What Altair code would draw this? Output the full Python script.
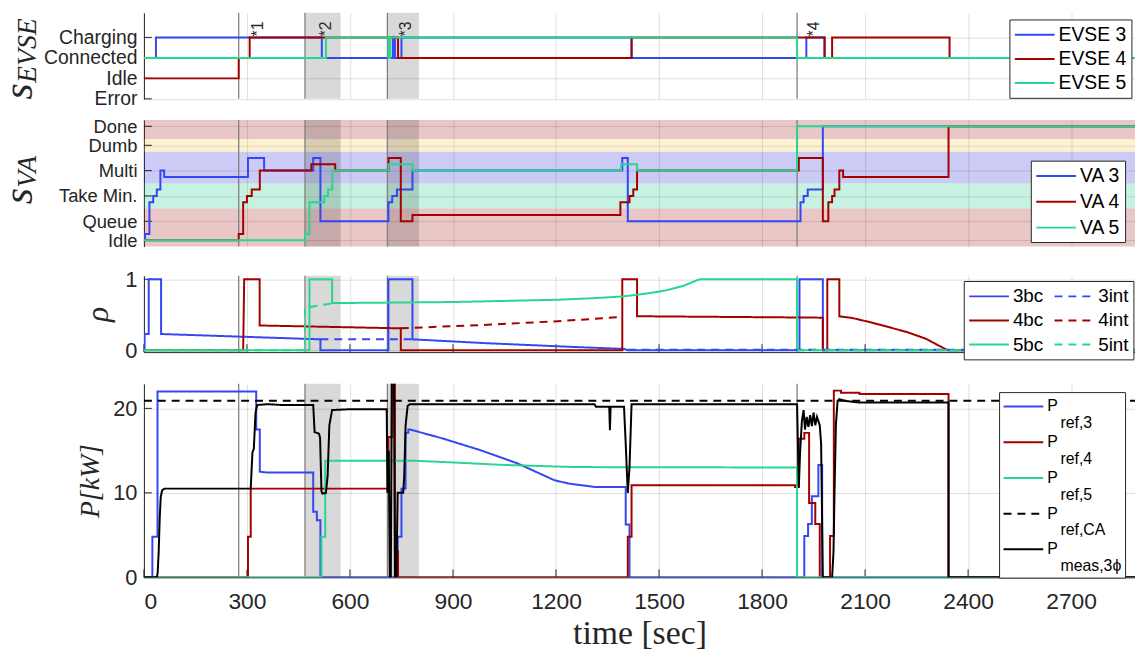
import altair as alt
import pandas as pd

# ---------------- data ----------------
T_END = 2886
X_TICKS = [0, 300, 600, 900, 1200, 1500, 1800, 2100, 2400, 2700]
EVENT_T = [276, 469, 709, 1902]
SHADE_START = [469, 709]
SHADE_END = [573, 801]
NOTE_T = [308, 507, 739, 1929]
NOTE_LABEL = ["*1", "*2", "*3", "*4"]

# EVSE states: 0 Error, 1 Idle, 2 Connected, 3 Charging
EVSE_TICKS = [0, 1, 2, 3]
EVSE_NAMES = ["Error", "Idle", "Connected", "Charging"]
EVSE3_T = [0, 35, 518, 725, 731, 750, 1420, 1929, 1982]
EVSE3_V = [2, 3, 2, 3, 2, 3, 2, 3, 2]
EVSE4_T = [0, 276, 308, 740, 1420, 1982, 2004, 2346]
EVSE4_V = [1, 2, 3, 2, 3, 2, 3, 2]
EVSE5_T = [0, 530, 712, 717, 1902]
EVSE5_V = [2, 3, 2, 3, 2]

# VA states
VA_TICKS = [0, 3, 7, 11, 15, 18]
VA_NAMES = ["Idle", "Queue", "Take Min.", "Multi", "Dumb", "Done"]
VA_BAND_LO = [-1, 5, 9, 14, 16]
VA_BAND_HI = [5, 9, 14, 16, 19]
VA_BAND_KIND = ["idle", "take", "multi", "dumb", "done"]
VA3_T = [0, 3, 16, 27, 37.5, 48, 59, 303, 350, 493, 514, 712, 723, 737, 782, 1393, 1409, 1912, 1921, 1933, 1977]
VA3_V = [0, 1, 6, 7, 8, 11, 10, 13, 11, 13, 3, 6, 7, 8, 11, 13, 3, 6, 7, 8, 18]
VA4_T = [0, 276, 289, 300, 314, 337.5, 487.5, 557, 712.5, 748, 782, 1387.5, 1414, 1425, 1436, 1907, 1977, 1993, 2004, 2011, 2025, 2036, 2343]
VA4_V = [0, 1, 6, 7, 8, 11, 12, 11, 13, 3, 4, 6, 7, 8, 11, 13, 3, 6, 7, 8, 11, 10, 18]
VA5_T = [0, 469, 482, 525, 536, 548.5, 712.5, 782, 1390, 1436, 1902]
VA5_V = [0, 1, 6, 7, 8, 11, 12, 11, 12, 11, 18]

# rho
RHO_TICKS = [0, 1]
RHO3BC_T = [0, 2, 2, 14, 14, 50, 50, 514, 514, 712, 712, 782, 782, 1000, 1259, 1400, 1409, 1909, 1909, 1977, 1977, T_END]
RHO3BC_V = [0, 0, 0.23, 0.23, 1, 1, 0.23, 0.155, 0, 0, 1, 1, 0.155, 0.1, 0.046, 0.02, 0, 0, 1, 1, 0, 0]
RHO3INT_SEGS = [([514, 782], [0.155, 0.155]), ([1409, T_END], [0.008, 0.008])]
RHO4BC_T = [0, 289, 292, 337, 337, 748, 748, 1393, 1393, 1436, 1436, 1977, 1977, 1990, 1990, 2025, 2025, 2062, 2116, 2170, 2223, 2277, 2341, T_END]
RHO4BC_V = [0, 0, 1, 1, 0.35, 0.31, 0, 0, 1, 1, 0.48, 0.46, 0, 0, 1, 1, 0.479, 0.456, 0.395, 0.326, 0.256, 0.163, 0, 0]
RHO4INT_SEGS = [([748, 1000, 1205, 1393], [0.31, 0.36, 0.41, 0.47])]
RHO5BC_T = [0, 482, 482, 548, 548, 900, 1205, 1312, 1393, 1436, 1484, 1527, 1570, 1612, 1620, 1902, 1902, T_END]
RHO5BC_V = [0, 0, 1, 1, 0.665, 0.68, 0.712, 0.735, 0.758, 0.782, 0.814, 0.851, 0.907, 0.99, 1, 1, 0, 0]
RHO5INT_SEGS = [([0, 469, 469, 548], [0, 0, 0.6, 0.66]), ([1902, T_END], [0, 0])]

# power [kW]
P_TICKS = [0, 10, 20]
PREF3_T = [0, 24.6, 24.6, 39.6, 39.6, 327, 327, 337.5, 337.5, 360, 493, 493, 503.6, 503.6, 514, 514, 739, 739, 750, 750, 762, 762, 770, 770,
           775, 873, 980, 1087, 1195, 1237, 1312, 1403, 1403, 1414, 1414, 1923, 1923, 1934, 1934, 1945, 1945, 1964, 1964, 1975, 1975, T_END]
PREF3_V = [0, 0, 4.8, 4.8, 22.0, 22.0, 17.5, 17.5, 12.5, 12.4, 12.4, 7.75, 7.75, 6.76, 6.76, 0, 0, 4.8, 4.8, 10.5, 10.5, 17.1, 17.1, 17.5,
           17.5, 16.4, 15.05, 13.5, 11.5, 11.1, 10.7, 10.7, 6.26, 6.26, 0, 0, 4.9, 4.9, 6.3, 6.3, 9.6, 9.6, 13.3, 13.3, 0, 0]
PREF4_T = [0, 303, 303, 311, 311, 712, 712, 722, 722, 731, 731, 740, 740, 1409, 1409, 1420, 1420, 1896, 1896, 1907, 1907, 1923, 1923, 1937,
           1937, 1955, 1955, 1968, 1968, 1998, 1998, 2009, 2009, 2030, 2030, 2084, 2084, 2343, 2343, T_END]
PREF4_V = [0, 0, 4.8, 4.8, 10.5, 10.5, 16.6, 16.6, 24, 24, 3.1, 3.1, 0, 0, 4.8, 4.8, 10.9, 10.9, 10.7, 10.7, 16.4, 16.4, 17.1, 17.1,
           8.8, 8.8, 6.3, 6.3, 0, 0, 4.9, 4.9, 22.1, 22.1, 21.85, 21.85, 21.7, 21.7, 0, 0]
PREF5_T = [0, 517, 517, 528, 528, 787, 900, 1050, 1259, 1902, 1902, T_END]
PREF5_V = [0, 0, 4.8, 4.8, 13.8, 13.8, 13.6, 13.3, 13.05, 13.0, 0, 0]
PREF_CA_T = [0, T_END]
PREF_CA_V = [20.9, 20.9]
PMEAS_T = [0, 37.5, 40, 43, 46, 49, 53, 60, 311, 316, 320, 325, 330, 360, 400, 493, 497, 510, 513, 517, 520, 530, 535, 540, 548, 600, 707,
           709, 713, 716, 719, 722, 728, 731, 735, 739, 755, 758, 762, 768, 775, 1312, 1316, 1355, 1357, 1359, 1398, 1403, 1409, 1414, 1420,
           1902, 1907, 1911, 1916, 1921, 1925, 1930, 1935, 1940, 1945, 1950, 1955, 1960, 1968, 1972, 1977, 2004, 2008, 2011, 2015, 2020,
           2025, 2040, 2080, 2343, 2343, T_END]
PMEAS_V = [0, 0, 0.5, 3, 7, 9.5, 10.3, 10.5, 10.5, 14.8, 15.2, 19.5, 20.4, 20.5, 20.4, 20.4, 17.2, 17, 16.5, 10.2, 9.9, 10, 12, 18, 19.8,
           19.9, 19.9, 10, 15, 0, 0, 24, 24, 0, 0, 10, 10, 12, 18, 20.3, 20.5, 20.5, 20.2, 20.2, 17.4, 20.2, 20.2, 15.8, 10, 13, 20.5,
           20.5, 10.6, 15, 18.5, 19.8, 17.5, 19, 17.8, 19.2, 17.9, 19.5, 18, 19, 18, 15.8, 0, 0, 3, 10, 18, 20.9,
           21.1, 20.9, 20.7, 20.7, 0, 0]

# ---------------- style ----------------
BLUE = "#3347f2"
RED = "#a30000"
GREEN = "#28d68e"
BLACK = "#000000"
AXC = "#262626"
FONT = "Liberation Sans"
SERIF = "Liberation Serif"
DASH = [8, 6]
LINE_SYMBOL = "M-1,0H3"
TICK_LEN = 8

W = 999
H1, H2, H3, H4 = 86.7, 127.6, 77, 195
GAP12, GAP23, GAP34 = 20.7, 28.7, 31.7


def step_rows(name, ts, vs):
    rows = [{"t": t, "v": v, "series": name, "seg": 0} for t, v in zip(ts, vs)]
    rows.append({"t": T_END, "v": vs[-1], "series": name, "seg": 0})
    return rows


def pt_rows(name, ts, vs, seg=0):
    return [{"t": t, "v": v, "series": name, "seg": seg} for t, v in zip(ts, vs)]


def label_expr(vals, names):
    s = "''"
    for v, n in zip(vals, names):
        s = f"datum.value == {v} ? '{n}' : ({s})"
    return s


def x_axis(labels=False, domain=False, title=None):
    kw = dict(values=X_TICKS, labels=labels, ticks=False, domain=domain, domainColor=AXC, domainWidth=1,
              grid=True, gridColor=AXC, gridOpacity=0.15, gridWidth=1, format="d", labelOverlap=False,
              labelFont=FONT, labelFontSize=23, labelColor=AXC, labelPadding=13)
    if title:
        kw.update(title=title, titleFont=SERIF, titleFontSize=34, titleFontWeight="normal",
                  titleColor=AXC, titlePadding=4)
    else:
        kw["title"] = None
    return alt.Axis(**kw)


def y_axis(values, names=None, size=19.5, title=None, tsize=28, tpad=6):
    kw = dict(values=values, ticks=False, domain=True, domainColor=AXC, domainWidth=1,
              grid=True, gridColor=AXC, gridOpacity=0.15, gridWidth=1, labelOverlap=False, format="d",
              labelFont=FONT, labelFontSize=size, labelColor=AXC, labelPadding=7)
    if names:
        kw["labelExpr"] = label_expr(values, names)
    if title:
        kw.update(title=title, titleFont=SERIF, titleFontSize=tsize, titleFontStyle="italic",
                  titleFontWeight="normal", titleColor=AXC, titlePadding=tpad)
    else:
        kw["title"] = None
    return alt.Axis(**kw)


def legend(x, y, rowpad=3.3, cols=1, size=19.5, pad=4.5, **extra):
    return alt.Legend(title=None, orient="none", legendX=x, legendY=y, direction="vertical",
                      columns=cols, symbolType=LINE_SYMBOL, symbolSize=400, symbolStrokeWidth=2,
                      labelFont=FONT, labelFontSize=size, labelColor="#000000", fillColor="white",
                      strokeColor=AXC, padding=pad, rowPadding=rowpad, columnPadding=7, labelOffset=23, **extra)


shade_df = pd.DataFrame({"t": SHADE_START, "t2": SHADE_END})
event_df = pd.DataFrame({"t": EVENT_T})


def common_layers(X):
    shade = alt.Chart(shade_df).mark_rect(color="#000000", opacity=0.15).encode(
        x=X, x2="t2:Q")
    events = alt.Chart(event_df).mark_rule(color="#808080", strokeWidth=1.3).encode(x=X)
    return shade, events


def y_ticks(Y, vals):
    # MATLAB-style inward ticks on the left axis
    return alt.Chart(pd.DataFrame({"v": vals})).mark_rule(color=AXC, strokeWidth=1).encode(
        y=Y, x=alt.value(0), x2=alt.value(TICK_LEN))


def x_ticks(X, h):
    # MATLAB-style inward ticks on the bottom axis
    return alt.Chart(pd.DataFrame({"t": X_TICKS})).mark_rule(color=AXC, strokeWidth=1).encode(
        x=X, y=alt.value(h), y2=alt.value(h - TICK_LEN))


def title_text(txt, x, y, size):
    return alt.Chart(pd.DataFrame({"txt": [txt]})).mark_text(
        font=SERIF, fontSize=size, fontStyle="italic", color=AXC, angle=270,
        align="left", baseline="alphabetic").encode(text="txt:N", x=alt.value(x), y=alt.value(y))


def spacer(h):
    return alt.Chart(pd.DataFrame({"a": [0]})).mark_point(opacity=0).encode(
        x=alt.value(0), y=alt.value(0)).properties(width=W, height=h)


XSCALE = alt.Scale(domain=[0, T_END], nice=False, zero=False)

# ---------- panel 1: EVSE ----------
evse_df = pd.DataFrame(step_rows("EVSE 3", EVSE3_T, EVSE3_V) + step_rows("EVSE 4", EVSE4_T, EVSE4_V)
                       + step_rows("EVSE 5", EVSE5_T, EVSE5_V))
X1 = alt.X("t:Q", scale=XSCALE, axis=x_axis())
Y1 = alt.Y("v:Q", scale=alt.Scale(domain=[0, 4.2], nice=False, zero=False),
           axis=y_axis(EVSE_TICKS, EVSE_NAMES))
sh1, ev1 = common_layers(X1)
lines1 = alt.Chart(evse_df).mark_line(interpolate="step-after", strokeWidth=2, clip=True).encode(
    x=X1, y=Y1,
    color=alt.Color("series:N", scale=alt.Scale(domain=["EVSE 3", "EVSE 4", "EVSE 5"], range=[BLUE, RED, GREEN]),
                    legend=legend(872.4, 6.7)),
    detail="seg:N")
note_df = pd.DataFrame({"t": NOTE_T, "v": [3.05] * 4, "lab": NOTE_LABEL})
notes = alt.Chart(note_df).mark_text(font=FONT, fontSize=16, color=AXC, angle=270, align="left",
                                     baseline="top").encode(x=X1, y=Y1, text="lab:N")
p1 = alt.layer(sh1, ev1, y_ticks(Y1, EVSE_TICKS), lines1, notes,
               title_text("s", -112.7, 87.4, 42), title_text("EVSE", -109, 70.7, 28)
               ).properties(width=W, height=H1)

# ---------- panel 2: VA ----------
va_df = pd.DataFrame(step_rows("VA 3", VA3_T, VA3_V) + step_rows("VA 4", VA4_T, VA4_V)
                     + step_rows("VA 5", VA5_T, VA5_V))
band_df = pd.DataFrame({"v": VA_BAND_LO, "v2": VA_BAND_HI, "kind": VA_BAND_KIND})
X2 = alt.X("t:Q", scale=XSCALE, axis=x_axis())
Y2 = alt.Y("v:Q", scale=alt.Scale(domain=[-1, 19], nice=False, zero=False),
           axis=y_axis(VA_TICKS, VA_NAMES, size=18.5))
bands = alt.Chart(band_df).mark_rect(opacity=0.22).encode(
    y=Y2, y2="v2:Q",
    fill=alt.Fill("kind:N", scale=alt.Scale(domain=["idle", "take", "multi", "dumb", "done"],
                                           range=["#990000", "#00c070", "#1010d0", "#f0c030", "#990000"]),
                  legend=None))
sh2, ev2 = common_layers(X2)
lines2 = alt.Chart(va_df).mark_line(interpolate="step-after", strokeWidth=2, clip=True).encode(
    x=X2, y=Y2,
    color=alt.Color("series:N", scale=alt.Scale(domain=["VA 3", "VA 4", "VA 5"], range=[BLUE, RED, GREEN]),
                    legend=legend(894, 41, rowpad=5)),
    detail="seg:N")
p2 = alt.layer(bands, sh2, ev2, y_ticks(Y2, VA_TICKS), lines2,
               title_text("s", -112.7, 85, 42), title_text("VA", -109, 68.3, 28)
               ).properties(width=W, height=H2)

# ---------- panel 3: rho ----------
rho_rows = (pt_rows("3bc", RHO3BC_T, RHO3BC_V) + pt_rows("4bc", RHO4BC_T, RHO4BC_V)
            + pt_rows("5bc", RHO5BC_T, RHO5BC_V))
for name, segs in (("3int", RHO3INT_SEGS), ("4int", RHO4INT_SEGS), ("5int", RHO5INT_SEGS)):
    for i, (ts, vs) in enumerate(segs):
        rho_rows += pt_rows(name, ts, vs, seg=i + 1)
rho_df = pd.DataFrame(rho_rows)
X3 = alt.X("t:Q", scale=XSCALE, axis=x_axis(domain=True))
Y3 = alt.Y("v:Q", scale=alt.Scale(domain=[-0.025, 1.05], nice=False, zero=False),
           axis=y_axis(RHO_TICKS, size=22, title="ρ", tsize=32, tpad=10))
sh3, ev3 = common_layers(X3)
rho_dom = ["3bc", "4bc", "5bc", "3int", "4int", "5int"]
leg3 = legend(826.4, 5.3, cols=2, size=19)
lines3 = alt.Chart(rho_df).mark_line(strokeWidth=2, clip=True).encode(
    x=X3, y=Y3,
    color=alt.Color("series:N", scale=alt.Scale(domain=rho_dom, range=[BLUE, RED, GREEN, BLUE, RED, GREEN]),
                    legend=leg3),
    strokeDash=alt.StrokeDash("series:N", scale=alt.Scale(domain=rho_dom,
                                                          range=[[1, 0], [1, 0], [1, 0], DASH, DASH, DASH]),
                              legend=leg3),
    detail="seg:N")
p3 = alt.layer(sh3, ev3, y_ticks(Y3, RHO_TICKS), x_ticks(X3, H3), lines3).properties(width=W, height=H3)

# ---------- panel 4: power ----------
SUB = "\u200b\u00a0\u00a0\u00a0"
p_dom = ["P|" + SUB + "ref,3", "P|" + SUB + "ref,4", "P|" + SUB + "ref,5", "P|" + SUB + "ref,CA",
         "P|" + SUB + "meas,3ϕ"]
p_df = pd.DataFrame(pt_rows(p_dom[0], PREF3_T, PREF3_V) + pt_rows(p_dom[1], PREF4_T, PREF4_V)
                    + pt_rows(p_dom[2], PREF5_T, PREF5_V) + pt_rows(p_dom[3], PREF_CA_T, PREF_CA_V)
                    + pt_rows(p_dom[4], PMEAS_T, PMEAS_V))
X4 = alt.X("t:Q", scale=XSCALE, axis=x_axis(labels=True, domain=True, title="time [sec]"))
Y4 = alt.Y("v:Q", scale=alt.Scale(domain=[0, 22.9], nice=False, zero=False),
           axis=y_axis(P_TICKS, size=22, title="P[kW]", tsize=28, tpad=8))
sh4, ev4 = common_layers(X4)
leg4 = legend(862, 8.3, rowpad=0, size=16, pad=3.5, labelExpr="split(datum.label, '|')")
lines4 = alt.Chart(p_df).mark_line(strokeWidth=2, clip=True).encode(
    x=X4, y=Y4,
    color=alt.Color("series:N", scale=alt.Scale(domain=p_dom, range=[BLUE, RED, GREEN, BLACK, BLACK]), legend=leg4),
    strokeDash=alt.StrokeDash("series:N", scale=alt.Scale(domain=p_dom, range=[[1, 0], [1, 0], [1, 0], DASH, [1, 0]]),
                              legend=leg4),
    detail="seg:N")
p4 = alt.layer(sh4, ev4, y_ticks(Y4, P_TICKS), x_ticks(X4, H4), lines4).properties(width=W, height=H4)

chart = alt.vconcat(p1, spacer(GAP12), p2, spacer(GAP23), p3, spacer(GAP34), p4,
                    spacing=0, bounds="flush").resolve_scale(
    color="independent", strokeDash="independent", fill="independent").resolve_legend(
    color="independent", strokeDash="independent").properties(
    padding={"left": -10, "top": 1.3, "right": 0, "bottom": 0}
).configure(background="white", style={"guide-label": {"lineHeight": 17}}).configure_view(stroke=None)

chart.save("out.html", embed_options={"renderer": "svg", "actions": False})
